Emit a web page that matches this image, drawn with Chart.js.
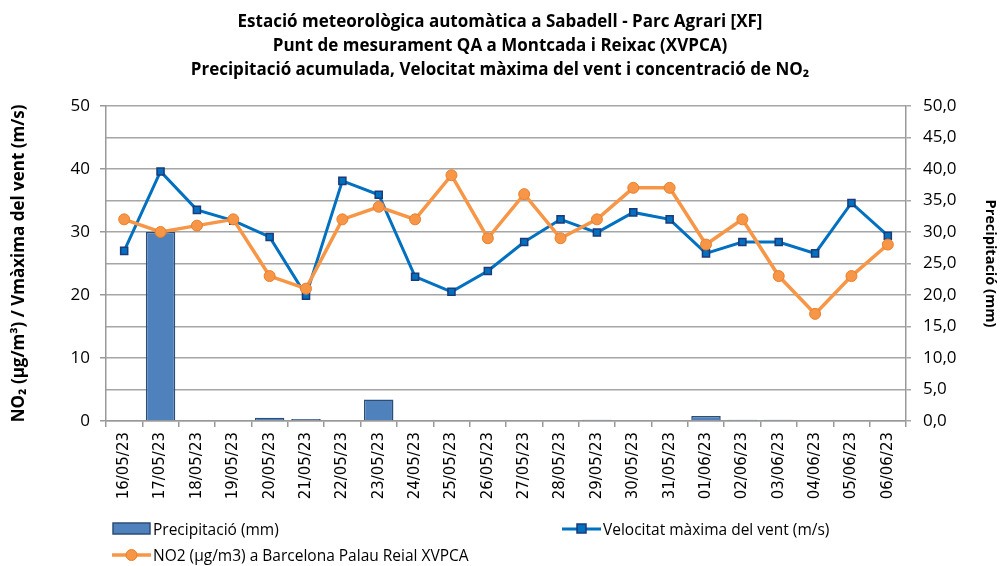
<!DOCTYPE html>
<html>
<head>
<meta charset="utf-8">
<script src="https://cdn.jsdelivr.net/npm/chart.js@4"></script>
<style>
  body { margin: 0; background: #fff; }
  #wrap { position: relative; width: 1000px; height: 566px; }
  #legend { position: absolute; left: 0; top: 0; width: 1000px; height: 566px; pointer-events: none;
    font-family: 'Open Sans', sans-serif; font-size: 15.5px; color: #000; }
  .item { position: absolute; display: flex; align-items: center; height: 20px; }
  .item canvas { margin-right: 2px; }
</style>
</head>
<body>
<div id="wrap">
  <canvas id="chart" width="1000" height="566"></canvas>
  <div id="legend"></div>
</div>
<script>
const FONT = "'Open Sans', sans-serif";

const dates = ['16/05/23', '17/05/23', '18/05/23', '19/05/23', '20/05/23', '21/05/23', '22/05/23',
  '23/05/23', '24/05/23', '25/05/23', '26/05/23', '27/05/23', '28/05/23', '29/05/23', '30/05/23',
  '31/05/23', '01/06/23', '02/06/23', '03/06/23', '04/06/23', '05/06/23', '06/06/23'];

const precipitacio = [0, 30, 0, 0, 0.5, 0.3, 0, 3.4, 0, 0, 0, 0, 0, 0.2, 0, 0, 0.8, 0.2, 0.2, 0, 0, 0];
const ventMax = [27.0, 39.6, 33.5, 31.8, 29.2, 19.9, 38.1, 35.9, 22.9, 20.5, 23.8,
  28.4, 32.0, 29.9, 33.1, 32.0, 26.6, 28.4, 28.4, 26.6, 34.6, 29.4];
const no2 = [32, 30, 31, 32, 23, 21, 32, 34, 32, 39, 29, 36, 29, 32, 37, 37, 28, 32, 23, 17, 23, 28];

const titleLines = [
  'Estació meteorològica automàtica a Sabadell - Parc Agrari [XF]',
  'Punt de mesurament QA a Montcada i Reixac (XVPCA)',
  'Precipitació acumulada, Velocitat màxima del vent i concentració de NO₂'
];

const ctx = document.getElementById('chart').getContext('2d');
const chart = new Chart(ctx, {
  type: 'bar',
  data: {
    labels: dates,
    datasets: [
      {
        type: 'line',
        label: 'NO2 (µg/m3) a Barcelona Palau Reial XVPCA',
        data: no2,
        yAxisID: 'y',
        borderColor: '#F79646',
        backgroundColor: '#F79646',
        borderWidth: 3.5,
        pointStyle: 'circle',
        pointRadius: 5.5,
        pointBackgroundColor: '#F79646',
        pointBorderColor: '#E7802F',
        pointBorderWidth: 1,
        tension: 0,
        order: 1
      },
      {
        type: 'line',
        label: 'Velocitat màxima del vent (m/s)',
        data: ventMax,
        yAxisID: 'y',
        borderColor: '#0070C0',
        backgroundColor: '#0070C0',
        borderWidth: 3,
        pointStyle: 'rect',
        pointRadius: 5,
        pointBackgroundColor: '#0070C0',
        pointBorderColor: '#1C3B78',
        pointBorderWidth: 1.5,
        tension: 0,
        order: 2
      },
      {
        type: 'bar',
        label: 'Precipitació (mm)',
        data: precipitacio,
        yAxisID: 'y1',
        backgroundColor: '#4F81BD',
        borderColor: '#2C4D75',
        borderWidth: 1.5,
        barPercentage: 0.9,
        categoryPercentage: 0.9,
        order: 3
      }
    ]
  },
  options: {
    responsive: false,
    animation: false,
    layout: { padding: 0 },
    plugins: {
      legend: { display: false },
      tooltip: { enabled: false },
      title: {
        display: true,
        text: titleLines,
        color: '#000',
        font: { family: FONT, size: 17, weight: 'bold', lineHeight: 1.41 },
        padding: { top: 10, bottom: 24 }
      }
    },
    scales: {
      x: {
        offset: true,
        afterFit: (scale) => { scale.height = 145; },
        grid: { display: true, drawOnChartArea: false, drawTicks: true, tickLength: 6, offset: true, color: '#999', lineWidth: 1.5 },
        border: { color: '#999', width: 1.5 },
        ticks: { color: '#000', maxRotation: 90, minRotation: 90, padding: 5, autoSkip: false,
          font: { family: "'DejaVu Sans', Verdana, sans-serif", size: 15 } }
      },
      y: {
        position: 'left',
        min: 0, max: 50,
        afterFit: (scale) => { scale.width = 106; },
        grid: { drawOnChartArea: false, drawTicks: true, tickLength: 6, color: '#999', lineWidth: 1.5 },
        border: { color: '#999', width: 1.5 },
        ticks: { stepSize: 10, color: '#000', padding: 10, font: { family: FONT, size: 17 } },
        title: {
          display: true,
          text: 'NO₂ (µg/m³) / Vmàxima del vent (m/s)',
          color: '#000',
          font: { family: FONT, size: 17, weight: 'bold' },
          padding: { top: 9, bottom: 0 }
        }
      },
      y1: {
        position: 'right',
        min: 0, max: 50,
        afterFit: (scale) => { scale.width = 94; },
        grid: { drawOnChartArea: true, drawTicks: true, tickLength: 5, color: '#A6A6A6', lineWidth: 1.5 },
        border: { color: '#999', width: 1.5 },
        ticks: {
          stepSize: 5, color: '#000', padding: 12,
          font: { family: FONT, size: 17 },
          callback: (v) => v.toFixed(1).replace('.', ',')
        },
        title: {
          display: true,
          text: 'Precipitació (mm)',
          color: '#000',
          font: { family: FONT, size: 14.5, weight: 'bold' },
          padding: { top: 1, bottom: 0 }
        }
      }
    }
  }
});

// legend laid out like the spreadsheet one: two columns, wrapping
const legendPos = {
  'Precipitació (mm)': [112, 519],
  'Velocitat màxima del vent (m/s)': [562, 519],
  'NO2 (µg/m3) a Barcelona Palau Reial XVPCA': [112, 545]
};
const legendEl = document.getElementById('legend');
[2, 1, 0].forEach((i) => {
  const ds = chart.data.datasets[i];
  const item = document.createElement('div');
  item.className = 'item';
  const [lx, ly] = legendPos[ds.label];
  item.style.left = lx + 'px';
  item.style.top = ly + 'px';
  const ic = document.createElement('canvas');
  ic.width = 39; ic.height = 20;
  const g = ic.getContext('2d');
  if (ds.type === 'bar') {
    g.fillStyle = ds.backgroundColor;
    g.fillRect(1, 4, 37, 11);
    g.strokeStyle = ds.borderColor;
    g.lineWidth = 1.5;
    g.strokeRect(1, 4, 37, 11);
  } else {
    g.strokeStyle = ds.borderColor;
    g.lineWidth = ds.borderWidth;
    g.beginPath(); g.moveTo(0, 10); g.lineTo(39, 10); g.stroke();
    g.fillStyle = ds.pointBackgroundColor;
    g.strokeStyle = ds.pointBorderColor;
    g.lineWidth = ds.pointBorderWidth;
    if (ds.pointStyle === 'rect') {
      g.fillRect(15, 5, 9, 9); g.strokeRect(15, 5, 9, 9);
    } else {
      g.beginPath(); g.arc(19.5, 10, 5.5, 0, Math.PI * 2); g.fill(); g.stroke();
    }
  }
  item.appendChild(ic);
  const t = document.createElement('span');
  t.textContent = ds.label;
  item.appendChild(t);
  legendEl.appendChild(item);
});
</script>
</body>
</html>
